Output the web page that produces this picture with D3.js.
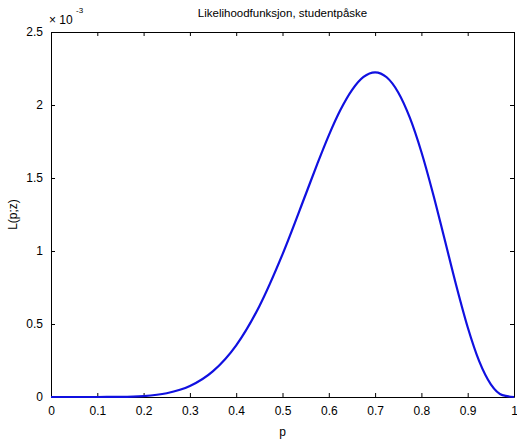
<!DOCTYPE html>
<html>
<head>
<meta charset="utf-8">
<script src="https://cdn.jsdelivr.net/npm/d3@7"></script>
<style>
  body { margin: 0; background: #fff; }
  text { font-family: "Liberation Sans", Arial, sans-serif; fill: #000; }
</style>
</head>
<body>
<svg id="chart" width="517" height="440"></svg>
<script>
// values, L in units of 1e-3
const pValues = [0, 0.05, 0.1, 0.15, 0.2, 0.25, 0.3, 0.35, 0.4, 0.45, 0.5, 0.55, 0.575, 0.6, 0.625, 0.65, 0.675, 0.7, 0.725, 0.75, 0.775, 0.8, 0.825, 0.85, 0.875, 0.9, 0.925, 0.95, 0.975, 1];
const lValues = [0, 0, 0.0001, 0.001, 0.0066, 0.0258, 0.075, 0.177, 0.354, 0.622, 0.977, 1.387, 1.595, 1.792, 1.965, 2.102, 2.192, 2.224, 2.190, 2.086, 1.913, 1.678, 1.394, 1.082, 0.767, 0.478, 0.244, 0.087, 0.013, 0];
const xTicks = [0, 0.1, 0.2, 0.3, 0.4, 0.5, 0.6, 0.7, 0.8, 0.9, 1];
const yTicks = [0, 0.5, 1, 1.5, 2, 2.5];

const margin = ({ top: 32, right: 3, bottom: 43, left: 51 });
const width = 517, height = 440;

const xScale = d3.scaleLinear().domain([0, 1]).range([margin.left, width - margin.right]);
const yScale = d3.scaleLinear().domain([0, 2.5]).range([height - margin.bottom, margin.top]);

const svg = d3.select("#chart");

const fmt = d => d3.format("")(d);

// axes, ticks pointing inward like matlab
svg.append("g")
    .attr("transform", `translate(0,${height - margin.bottom})`)
    .call(d3.axisBottom(xScale).tickValues(xTicks).tickFormat(fmt).tickSizeInner(-4).tickSizeOuter(0).tickPadding(9))
    .call(g => g.selectAll("text").attr("font-size", 12));

svg.append("g")
    .attr("transform", `translate(0,${margin.top})`)
    .call(d3.axisTop(xScale).tickValues(xTicks).tickFormat("").tickSizeInner(-4).tickSizeOuter(0));

svg.append("g")
    .attr("transform", `translate(${margin.left},0)`)
    .call(d3.axisLeft(yScale).tickValues(yTicks).tickFormat(fmt).tickSizeInner(-4).tickSizeOuter(0).tickPadding(8))
    .call(g => g.selectAll("text").attr("font-size", 12));

svg.append("g")
    .attr("transform", `translate(${width - margin.right},0)`)
    .call(d3.axisRight(yScale).tickValues(yTicks).tickFormat("").tickSizeInner(-4).tickSizeOuter(0));

svg.selectAll(".domain").attr("stroke", "#000");
svg.selectAll(".tick line").attr("stroke", "#000");

// the curve
const line = d3.line()
    .x((d, i) => xScale(pValues[i]))
    .y(d => yScale(d))
    .curve(d3.curveMonotoneX);

svg.append("path")
    .datum(lValues)
    .attr("d", line)
    .attr("fill", "none")
    .attr("stroke", "#1010e0")
    .attr("stroke-width", 2.2);

// texts
svg.append("text")
    .attr("x", (margin.left + width - margin.right) / 2)
    .attr("y", 17)
    .attr("text-anchor", "middle")
    .attr("font-size", 11.5)
    .text("Likelihoodfunksjon, studentpåske");

svg.append("text")
    .attr("x", 49)
    .attr("y", 24)
    .attr("font-size", 12)
    .text("× 10");

svg.append("text")
    .attr("x", 76)
    .attr("y", 13)
    .attr("font-size", 8)
    .text("-3");

svg.append("text")
    .attr("x", (margin.left + width - margin.right) / 2)
    .attr("y", 436)
    .attr("text-anchor", "middle")
    .attr("font-size", 12)
    .text("p");

svg.append("text")
    .attr("transform", `translate(17,${(margin.top + height - margin.bottom) / 2}) rotate(-90)`)
    .attr("text-anchor", "middle")
    .attr("font-size", 12)
    .text("L(p;z)");
</script>
</body>
</html>
